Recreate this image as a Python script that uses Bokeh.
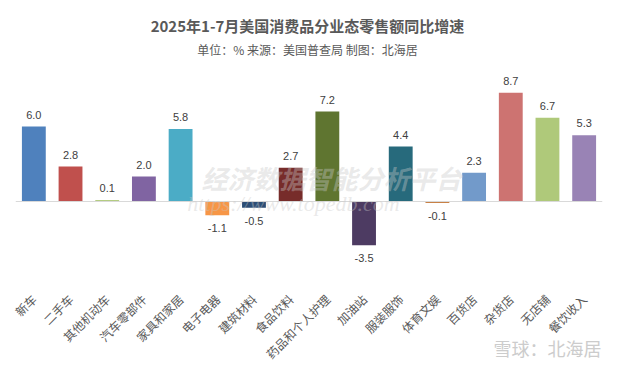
import math
from bokeh.plotting import figure
from bokeh.models import ColumnDataSource, Range1d, Span, Label
from bokeh.core.properties import value
from bokeh.embed import file_html
from bokeh.resources import INLINE

categories = ["新车", "二手车", "其他机动车", "汽车零部件", "家具和家居", "电子电器", "建筑材料",
              "食品饮料", "药品和个人护理", "加油站", "服装服饰", "体育文娱", "百货店", "杂货店",
              "无店铺", "餐饮收入"]
growth = [6.0, 2.8, 0.1, 2.0, 5.8, -1.1, -0.5, 2.7, 7.2, -3.5, 4.4, -0.1, 2.3, 8.7, 6.7, 5.3]
bar_colors = ["#4f81bd", "#c0504d", "#9bbb59", "#8064a2", "#4bacc6", "#f79646", "#2c4d75",
              "#772c2a", "#5f7530", "#4d3b62", "#276a7c", "#b65708", "#729aca", "#cd7371",
              "#afc97a", "#9983b5"]

title_text = "2025年1-7月美国消费品分业态零售额同比增速"
subtitle_text = "单位：% 来源：美国普查局 制图：北海居"

CJK = "Noto Sans CJK SC"

src = ColumnDataSource(dict(
    cat=categories,
    val=growth,
    color=bar_colors,
    lbl=[f"{v:.1f}" for v in growth],
    yoff=[-12 if v >= 0 else 13 for v in growth],
))

p = figure(x_range=categories, y_range=Range1d(-6.8, 16.08),
           frame_width=587, frame_height=286,
           min_border_left=15, min_border_right=15, min_border_top=0, min_border_bottom=82,
           output_backend="svg", toolbar_location=None, y_axis_location=None,
           background_fill_color="white", border_fill_color="white", outline_line_color=None)

p.grid.visible = False

p.vbar(x="cat", top="val", bottom=0, width=0.65, fill_color="color", line_color=None, source=src)

p.add_layout(Span(location=0, dimension="width", line_color="#d9d9d9", line_width=1))

p.text(x="cat", y="val", text="lbl", source=src, y_offset="yoff",
       text_align="center", text_baseline="middle",
       text_font=value("Liberation Sans"), text_font_size="11px", text_color="#404040")

ax = p.xaxis[0]
ax.axis_line_color = None
ax.major_tick_line_color = None
ax.minor_tick_line_color = None
ax.major_label_orientation = math.pi / 4
ax.major_label_standoff = 4
ax.major_label_text_font = CJK
ax.major_label_text_font_size = "12px"
ax.major_label_text_color = "#595959"

# title / subtitle (screen units, relative to the frame)
p.add_layout(Label(x=292, y=261, x_units="screen", y_units="screen", text=title_text,
                   text_align="center", text_baseline="middle", text_font=CJK,
                   text_font_size="15px", text_font_style="bold", text_color="#595959"))
p.add_layout(Label(x=292, y=237, x_units="screen", y_units="screen", text=subtitle_text,
                   text_align="center", text_baseline="middle", text_font=CJK,
                   text_font_size="12px", text_color="#595959"))

# centre watermarks
p.add_layout(Label(x=316, y=109, x_units="screen", y_units="screen", text="经济数据智能分析平台",
                   text_align="center", text_baseline="middle", text_font=CJK,
                   text_font_size="26px", text_font_style="bold italic", text_color="#c8c8c8",
                   text_alpha=0.4))
p.add_layout(Label(x=278, y=83, x_units="screen", y_units="screen", text="https://www.topedb.com",
                   text_align="center", text_baseline="middle", text_font="Liberation Serif",
                   text_font_size="22px", text_font_style="italic", text_color="#c8c8c8",
                   text_alpha=0.4))

# bottom-right watermark, placed in the lower side panel
p.add_layout(Label(x=532, y=49, x_units="screen", y_units="screen", text="雪球：北海居",
                   text_align="center", text_baseline="middle", text_font=CJK,
                   text_font_size="18px", text_color="#cccccc"), "below")

open("out.html", "w").write(file_html(p, INLINE))
